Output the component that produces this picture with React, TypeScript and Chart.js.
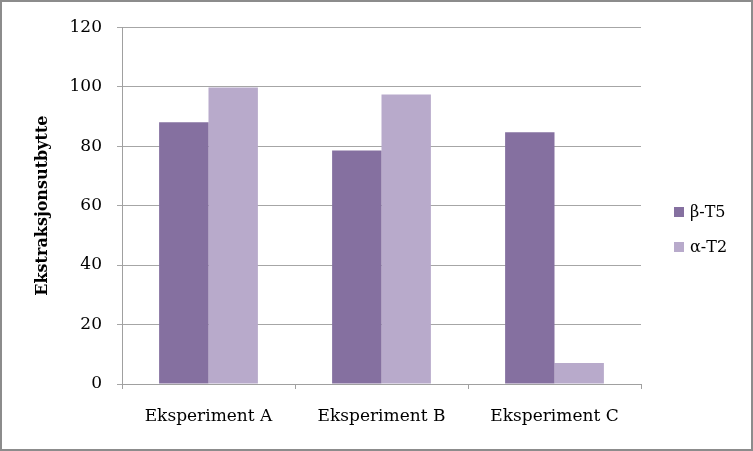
import React, { useEffect, useRef } from "react";
import { Chart, registerables } from "chart.js";

Chart.register(...registerables);

const categories = ["Eksperiment A", "Eksperiment B", "Eksperiment C"];
const betaT5 = [88, 78.5, 84.7];
const alphaT2 = [99.7, 97.4, 7.1];
const seriesNames = ["β-T5", "α-T2"];
const seriesColors = ["#8570A0", "#B8AACB"];
const yMin = 0;
const yMax = 120;
const yStep = 20;
const yTitle = "Ekstraksjonsutbytte";

const FONT = "'DejaVu Serif', serif";

const legendPlugin = {
  id: "customLegend",
  afterDraw(chart: any) {
    const ctx = chart.ctx;
    const ds = chart.data.datasets;
    ctx.save();
    ctx.font = `16px ${FONT}`;
    ctx.textBaseline = "middle";
    ctx.textAlign = "left";
    const x0 = 672;
    const yStart = 210;
    const gap = 35;
    ds.forEach((d: any, i: number) => {
      const cy = yStart + i * gap;
      ctx.fillStyle = d.backgroundColor;
      ctx.fillRect(x0, cy - 5, 10, 10);
      ctx.fillStyle = "#000";
      ctx.fillText(d.label, x0 + 16, cy + 1);
    });
    ctx.restore();
  },
};

export default function App() {
  const ref = useRef<HTMLCanvasElement | null>(null);
  useEffect(() => {
    if (!ref.current) return;
    const chart = new Chart(ref.current, {
      type: "bar",
      data: {
        labels: categories,
        datasets: [
          { label: seriesNames[0], data: betaT5, backgroundColor: seriesColors[0], borderWidth: 0 },
          { label: seriesNames[1], data: alphaT2, backgroundColor: seriesColors[1], borderWidth: 0 },
        ],
      },
      options: {
        animation: false,
        responsive: false,
        maintainAspectRatio: false,
        layout: { padding: { top: 22, right: 110, left: 0, bottom: 0 } },
        datasets: { bar: { categoryPercentage: 0.571, barPercentage: 1 } },
        plugins: { legend: { display: false }, tooltip: { enabled: false } },
        scales: {
          x: {
            afterFit: (s: any) => { s.height = 65; },
            grid: { drawOnChartArea: false, drawTicks: true, tickLength: 5, color: "#a0a0a0", offset: true },
            border: { color: "#a0a0a0", width: 1 },
            ticks: { color: "#000", font: { family: FONT, size: 17 }, padding: 17 },
          },
          y: {
            min: yMin,
            max: yMax,
            afterFit: (s: any) => { s.width = 120; },
            ticks: { stepSize: yStep, color: "#000", font: { family: FONT, size: 17 }, padding: 15 },
            grid: { color: "#a6a6a6", lineWidth: 1, tickLength: 5, drawTicks: true },
            border: { color: "#a0a0a0", width: 1 },
            title: {
              display: true,
              text: yTitle,
              color: "#000",
              font: { family: FONT, size: 16, weight: "bold" },
              padding: { top: 31, bottom: 0 },
            },
          },
        },
      },
      plugins: [legendPlugin],
    });
    return () => chart.destroy();
  }, []);
  return (
    <div
      style={{
        position: "absolute",
        left: 0,
        top: 0,
        width: 753,
        height: 451,
        boxSizing: "border-box",
        border: "2px solid #8c8c8c",
        background: "#fff",
      }}
    >
      <canvas ref={ref} width={749} height={447} style={{ display: "block", width: 749, height: 447 }} />
    </div>
  );
}
